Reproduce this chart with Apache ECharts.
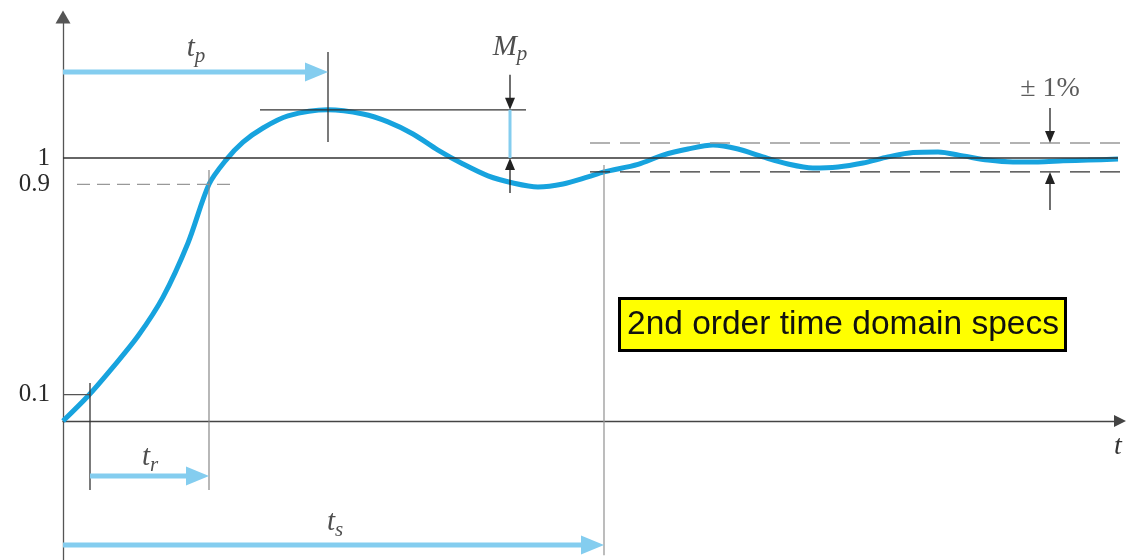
<!DOCTYPE html>
<html>
<head>
<meta charset="utf-8">
<script src="https://cdn.jsdelivr.net/npm/echarts@6/dist/echarts.min.js"></script>
<style>
  html, body { margin: 0; padding: 0; background: #fff; }
  #chart { width: 1126px; height: 560px; }
</style>
</head>
<body>
<div id="chart"></div>
<script>
// Step response of an under-damped second order system
const timeVals = [0, 0.5, 1.0, 1.5, 2.0, 2.5, 2.92, 3.25, 3.6, 4.0, 4.5, 5.3, 6.0, 6.5, 7.0, 7.5,
  8.0, 8.5, 9.0, 9.5, 10.0, 10.5, 10.82, 11.5, 12.0, 12.5, 13.0, 13.5, 14.0, 14.5, 15.0, 15.5,
  16.0, 16.5, 17.0, 17.5, 18.0, 18.5, 19.0, 19.5, 20.0, 20.5, 21.1];
const responseVals = [0, 0.095, 0.205, 0.323, 0.471, 0.677, 0.90, 0.99, 1.06, 1.114, 1.160,
  1.183, 1.167, 1.137, 1.091, 1.030, 0.977, 0.932, 0.905, 0.890, 0.901, 0.928, 0.947, 0.976,
  1.011, 1.034, 1.049, 1.034, 1.004, 0.977, 0.962, 0.966, 0.981, 1.004, 1.021, 1.023, 1.008,
  0.992, 0.985, 0.985, 0.989, 0.992, 0.996];

// Characteristic times and levels of the response
const riseStart = 0.54;   // crosses 0.1
const riseEnd = 2.92;     // crosses 0.9
const peakTime = 5.30;
const peakValue = 1.183;
const settleTime = 10.82;
const finalValue = 1;
const bandHigh = 1.057;
const bandLow = 0.947;
const yTickValues = [0.1, 0.9, 1];

// Axis extents
const tMax = 21.14;
const yMin = -0.5285, yMax = 1.536;

const CURVE = '#17a3de';
const ARROW = '#84cdef';
const DARK = '#333';
const GREY = '#999';

// Rows (in output units) on which the time-span arrows sit
const tpRow = 1.327, trRow = -0.209, tsRow = -0.471;
const mpX = 8.94, bandX = 19.74;

function segment(points, color, width, dash) {
  return {
    type: 'line', data: points, symbol: 'none', silent: true, z: 3,
    lineStyle: { color: color, width: width, type: dash || 'solid' },
    animation: false
  };
}

// [x1, y1, x2, y2, style]  style 0: wide light-blue span arrow, 1: thin black pointer
const arrows = [
  [0, tpRow, peakTime, tpRow, 0],
  [riseStart, trRow, riseEnd, trRow, 0],
  [0, tsRow, settleTime, tsRow, 0],
  [mpX, 1.316, mpX, peakValue, 1],
  [mpX, 0.867, mpX, finalValue, 1],
  [bandX, 1.19, bandX, bandHigh, 1],
  [bandX, 0.802, bandX, bandLow, 1]
];

const serif = 'Liberation Serif';
const subRich = {
  a: { fontFamily: serif, fontStyle: 'italic', fontSize: 29, color: '#222' },
  b: { fontFamily: serif, fontStyle: 'italic', fontSize: 21, color: '#222', padding: [16, 0, 0, 0] }
};

const labels = [
  { value: [2.66, 1.418], text: '{a|t}{b|p}' },
  { value: [8.94, 1.422], text: '{a|M}{b|p}' },
  { value: [1.74, -0.137], text: '{a|t}{b|r}' },
  { value: [5.44, -0.384], text: '{a|t}{b|s}' },
  { value: [bandX, 1.262], text: '{c|± 1%}' }
];

const chart = echarts.init(document.getElementById('chart'), null, { renderer: 'canvas' });

chart.setOption({
  animation: false,
  backgroundColor: '#fff',
  title: {
    text: '2nd order time domain specs',
    left: 619, top: 298,
    backgroundColor: '#ffff00',
    borderColor: '#000', borderWidth: 3,
    padding: [9, 7, 8, 8],
    textStyle: { fontFamily: 'Liberation Sans', fontWeight: 'normal', fontSize: 33.5, color: '#111', lineHeight: 36 }
  },
  grid: { left: 63, right: 6, top: 17, bottom: 0, containLabel: false, outerBoundsMode: 'none' },
  xAxis: {
    type: 'value', min: 0, max: tMax,
    name: 't', nameLocation: 'end', nameGap: -6,
    nameTextStyle: { fontFamily: serif, fontStyle: 'italic', fontSize: 28, color: DARK, align: 'left', verticalAlign: 'top', padding: [12, 0, 0, 0] },
    axisLine: { onZero: true, symbol: ['none', 'triangle'], symbolSize: [12, 12], lineStyle: { color: '#444', width: 1.4 } },
    axisTick: { show: false }, axisLabel: { show: false }, splitLine: { show: false }
  },
  yAxis: {
    type: 'value', min: yMin, max: yMax,
    axisLine: { onZero: false, symbol: ['none', 'triangle'], symbolSize: [15, 13], lineStyle: { color: '#555', width: 1.3 } },
    axisTick: { show: false }, splitLine: { show: false },
    axisLabel: { customValues: yTickValues, margin: 13, fontFamily: serif, fontSize: 25, color: '#2a2a2a',
      formatter: v => String(v) }
  },
  series: [
    {
      type: 'line', name: 'response', z: 2,
      data: timeVals.map((t, i) => [t, responseVals[i]]),
      symbol: 'none', smooth: 0.3,
      lineStyle: { color: CURVE, width: 5 }
    },
    segment([[0, finalValue], [21.1, finalValue]], DARK, 1.3),
    segment([[0.28, 0.9], [3.44, 0.9]], GREY, 1.3, [13, 7]),
    segment([[0, 0.1], [riseStart, 0.1]], '#555', 1.2),
    segment([[riseStart, 0.144], [riseStart, -0.262]], DARK, 1.3),
    segment([[riseEnd, 0.954], [riseEnd, -0.262]], '#888', 1.2),
    segment([[settleTime, 0.973], [settleTime, -0.51]], GREY, 1.3),
    segment([[peakTime, 1.403], [peakTime, 1.061]], DARK, 1.3),
    segment([[3.94, peakValue], [9.26, peakValue]], DARK, 1.3),
    segment([[mpX, peakValue], [mpX, finalValue]], ARROW, 3),
    segment([[10.54, bandHigh], [tMax + 0.2, bandHigh]], GREY, 1.3, [20, 10]),
    segment([[10.54, bandLow], [tMax + 0.2, bandLow]], DARK, 1.3, [20, 10]),
    {
      type: 'custom', z: 4, silent: true, clip: false,
      data: arrows,
      renderItem: function (params, api) {
        const p1 = api.coord([api.value(0), api.value(1)]);
        const p2 = api.coord([api.value(2), api.value(3)]);
        const wide = api.value(4) === 0;
        const headLen = wide ? 23 : 12, headW = wide ? 19 : 10;
        const color = wide ? ARROW : '#222';
        const dx = p2[0] - p1[0], dy = p2[1] - p1[1];
        const len = Math.sqrt(dx * dx + dy * dy) || 1;
        const ux = dx / len, uy = dy / len;
        const bx = p2[0] - ux * headLen, by = p2[1] - uy * headLen;
        const nx = -uy, ny = ux;
        return {
          type: 'group',
          children: [
            { type: 'line', shape: { x1: p1[0], y1: p1[1], x2: bx + ux * 2, y2: by + uy * 2 },
              style: { stroke: color, lineWidth: wide ? 5 : 1.3 } },
            { type: 'polygon', shape: { points: [[p2[0], p2[1]], [bx + nx * headW / 2, by + ny * headW / 2], [bx - nx * headW / 2, by - ny * headW / 2]] },
              style: { fill: color } }
          ]
        };
      }
    },
    {
      type: 'scatter', z: 5, silent: true, clip: false,
      symbolSize: 0,
      data: labels.map(l => ({ value: l.value, name: l.text })),
      label: {
        show: true, position: 'inside',
        formatter: p => p.name,
        rich: Object.assign({}, subRich, { c: { fontFamily: serif, fontSize: 28, color: DARK } })
      }
    }
  ]
});
</script>
</body>
</html>
